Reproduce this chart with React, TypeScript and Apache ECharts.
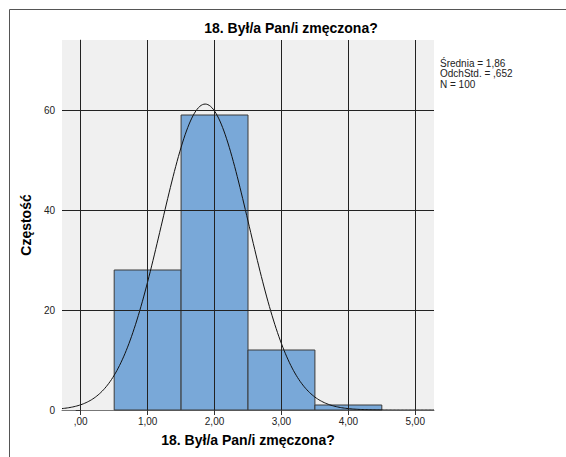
import React, { useEffect, useRef } from "react";
import * as echarts from "echarts";

const TITLE = "18. Był/a Pan/i zmęczona?";
const Y_NAME = "Częstość";
const BIN_START = [0.5, 1.5, 2.5, 3.5];
const BIN_END = [1.5, 2.5, 3.5, 4.5];
const COUNTS = [28, 59, 12, 1];
const X_TICKS = [0, 1, 2, 3, 4, 5];
const Y_TICKS = [0, 20, 40, 60];
const Y_GRID = [20, 40, 60];
const MEAN = 1.86;
const SD = 0.652;
const N = 100;
const STATS = ["Średnia = 1,86", "OdchStd. = ,652", "N = 100"];

const FONT = 'Arial, "Liberation Sans", sans-serif';

function fmtX(v: number) {
  if (v === 0) return ",00";
  return v.toFixed(2).replace(".", ",");
}

export default function App() {
  const ref = useRef<HTMLDivElement>(null);
  useEffect(() => {
    if (!ref.current) return;
    const chart = echarts.init(ref.current, null, { renderer: "svg" });
    const xmin = -0.28;
    const xmax = 5.28;
    const curve: number[][] = [];
    for (let x = xmin; x <= xmax + 1e-9; x += 0.02) {
      const z = (x - MEAN) / SD;
      curve.push([x, (N * 1 * Math.exp(-0.5 * z * z)) / (SD * Math.sqrt(2 * Math.PI))]);
    }
    const bars = BIN_START.map((s, i) => [s, BIN_END[i], COUNTS[i]]);
    chart.setOption({
      animation: false,
      textStyle: { fontFamily: FONT },
      grid: {
        left: 62,
        right: 132,
        top: 40,
        bottom: 47,
        show: true,
        backgroundColor: "#F0F0F0",
        borderWidth: 0,
      },
      xAxis: {
        type: "value",
        min: xmin,
        max: xmax,
        name: TITLE,
        nameLocation: "middle",
        nameGap: 23,
        nameTextStyle: { fontWeight: "bold", fontSize: 14, color: "#000", fontFamily: FONT },
        axisLine: { show: true, lineStyle: { color: "#777", width: 1 } },
        axisTick: { show: true, length: 5, customValues: X_TICKS, lineStyle: { color: "#333" } },
        axisLabel: {
          customValues: X_TICKS,
          formatter: fmtX,
          fontSize: 10,
          color: "#222",
          margin: 6,
          fontFamily: FONT,
        },
        splitLine: { show: false },
      },
      yAxis: {
        type: "value",
        min: 0,
        max: 74,
        name: Y_NAME,
        nameLocation: "middle",
        nameGap: 25,
        nameTextStyle: { fontWeight: "bold", fontSize: 14, color: "#000", fontFamily: FONT },
        axisLine: { show: true, lineStyle: { color: "#888", width: 1 } },
        axisTick: { show: true, length: 5, customValues: Y_TICKS, lineStyle: { color: "#333" } },
        axisLabel: {
          customValues: Y_TICKS,
          fontSize: 10,
          color: "#222",
          margin: 7,
          fontFamily: FONT,
        },
        splitLine: { show: false },
      },
      series: [
        {
          type: "scatter",
          data: [],
          z: 1,
          silent: true,
          markLine: {
            silent: true,
            symbol: ["none", "none"],
            label: { show: false },
            lineStyle: { color: "#222", width: 1, type: "solid" },
            data: [
              ...X_TICKS.map((v) => ({ xAxis: v })),
              ...Y_GRID.map((v) => ({ yAxis: v })),
            ],
          },
        },
        {
          type: "custom",
          z: 2,
          data: bars,
          encode: { x: [0, 1], y: 2 },
          renderItem: (params: any, api: any) => {
            const p0 = api.coord([api.value(0), api.value(2)]);
            const p1 = api.coord([api.value(1), 0]);
            return {
              type: "rect",
              shape: { x: p0[0], y: p0[1], width: p1[0] - p0[0], height: p1[1] - p0[1] },
              style: { fill: "#79A8D8", stroke: "#3A3A3A", lineWidth: 1 },
            };
          },
        },
        {
          type: "line",
          z: 3,
          data: curve,
          symbol: "none",
          smooth: false,
          lineStyle: { color: "#111", width: 1 },
        },
      ],
      graphic: [
        {
          type: "rect",
          shape: { x: 9.5, y: 9.5, width: 700, height: 600 },
          style: { fill: "none", stroke: "#555", lineWidth: 1 },
          silent: true,
        },
        {
          type: "text",
          x: 291,
          y: 28,
          style: {
            text: TITLE,
            fontSize: 14,
            fontWeight: "bold",
            fontFamily: FONT,
            fill: "#000",
            align: "center",
            verticalAlign: "middle",
          },
        },
        {
          type: "text",
          x: 440,
          y: 58,
          style: {
            text: STATS.join("\n"),
            fontSize: 10,
            lineHeight: 10.5,
            fontFamily: FONT,
            fill: "#222",
            align: "left",
            verticalAlign: "top",
          },
        },
      ],
    });
    return () => chart.dispose();
  }, []);
  return (
    <div
      ref={ref}
      style={{ position: "absolute", left: 0, top: 0, width: 566, height: 457 }}
    />
  );
}
